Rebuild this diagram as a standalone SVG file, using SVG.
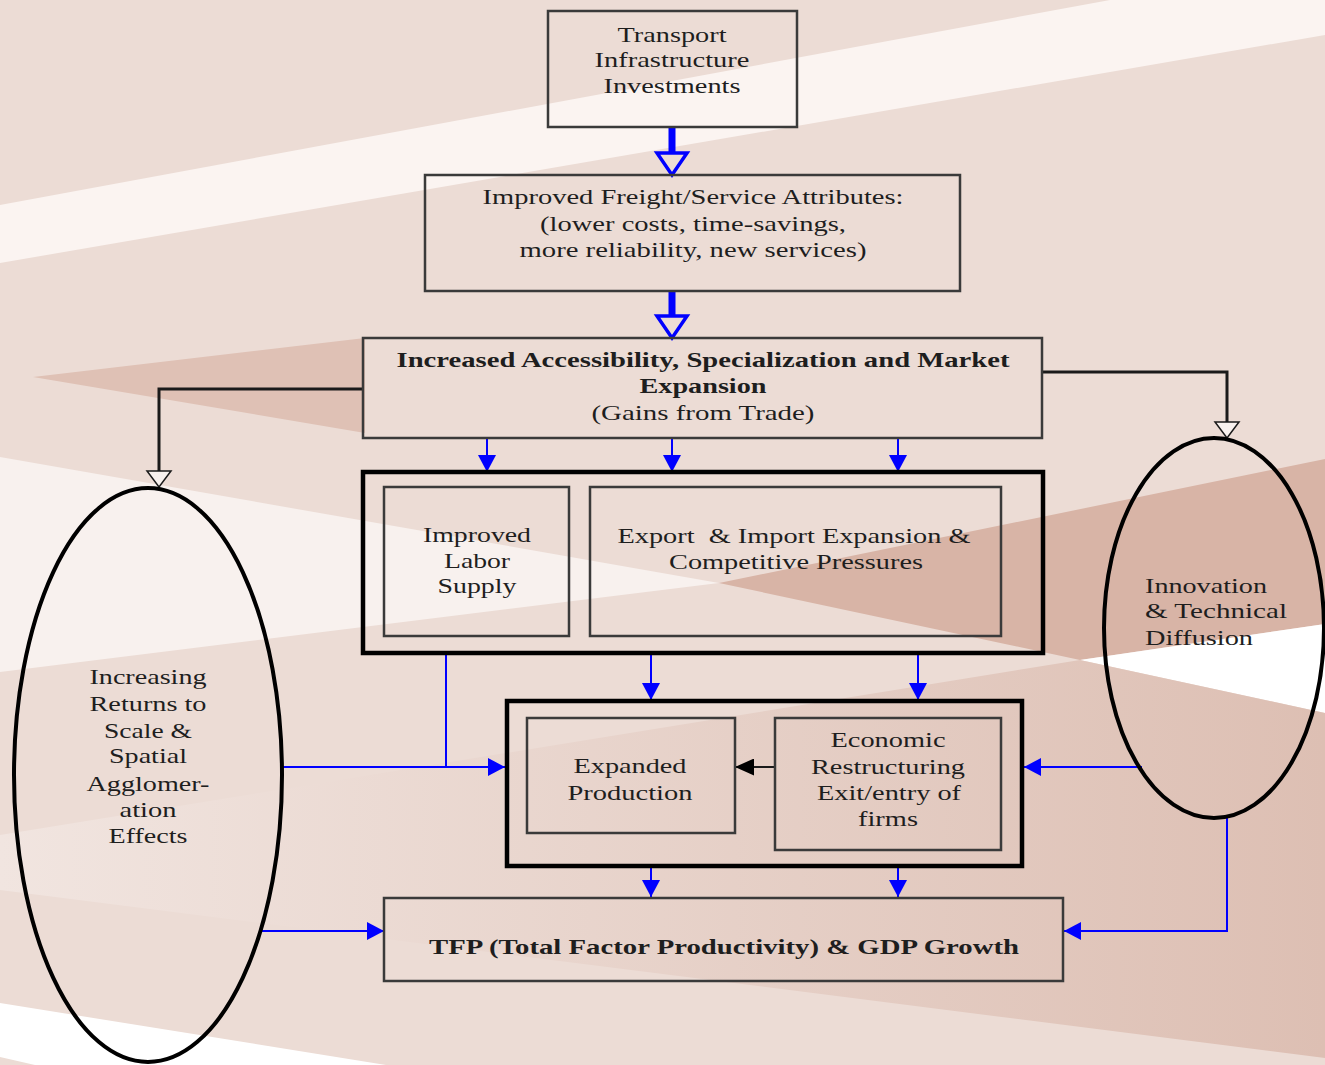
<svg xmlns="http://www.w3.org/2000/svg" width="1325" height="1065" viewBox="0 0 1325 1065">
<style>
.box{fill:none;stroke:#3a3a3a;stroke-width:2.5}
.outer{fill:none;stroke:#000;stroke-width:4.5}
.ell{fill:none;stroke:#000;stroke-width:4}
.t{font-family:"Liberation Serif","Times New Roman",serif;font-size:22px;fill:#1e1e1e;text-anchor:middle}
.b{font-weight:bold}
.l{text-anchor:start}
.blue{stroke:#0000ff;stroke-width:2;fill:none}
.bthick{stroke:#0000ff;stroke-width:7;fill:none}
.hblue{fill:none;stroke:#0000ff;stroke-width:3.5;stroke-linejoin:miter}
.blk{stroke:#1a1a1a;stroke-width:3;fill:none}
.hblk{fill:#f8f1ee;stroke:#1a1a1a;stroke-width:1.5}
</style>
<defs>
<linearGradient id="g1" x1="0" y1="0" x2="1325" y2="0" gradientUnits="userSpaceOnUse">
<stop offset="0" stop-color="#f1e5e0"/>
<stop offset="1" stop-color="#ddbfb3"/>
</linearGradient>
<marker id="ab" markerUnits="userSpaceOnUse" markerWidth="17" markerHeight="18" viewBox="0 0 17 18" refX="17" refY="9" orient="auto"><path d="M0,0 L17,9 L0,18 z" fill="#0000ff"/></marker>
<marker id="ak" markerUnits="userSpaceOnUse" markerWidth="19" markerHeight="17" viewBox="0 0 19 17" refX="19" refY="8.5" orient="auto"><path d="M0,0 L19,8.5 L0,17 z" fill="#000"/></marker>
</defs>
<g id="background">
<rect width="1325" height="1065" fill="#ecdcd5"/>
<polygon points="1110,0 1325,0 1325,35 0,263 0,205" fill="#fbf4f1"/>
<polygon points="33,377 365,338 365,433" fill="#dfc1b5"/>
<polygon points="0,457 719,583 0,672" fill="#f8f1ee"/>
<polygon points="719,583 1325,459 1325,624 1080,660" fill="#d8b4a6"/>
<polygon points="1080,660 1325,624 1325,713" fill="#ffffff"/>
<polygon points="0,835 1080,660 1325,713 1325,1058 0,890" fill="url(#g1)"/>
<polygon points="0,1003 386,1065 35,1065 0,1057" fill="#ffffff"/>
</g>
<g id="connectors">
<path class="bthick" d="M672,127 V153"/>
<polygon class="hblue" points="657,153 687,153 672,175"/>
<path class="bthick" d="M672,291 V316"/>
<polygon class="hblue" points="657,316 687,316 672,338"/>
<path class="blue" d="M487,438 V472" marker-end="url(#ab)"/>
<path class="blue" d="M672,438 V472" marker-end="url(#ab)"/>
<path class="blue" d="M898,438 V472" marker-end="url(#ab)"/>
<path class="blue" d="M651,653 V700" marker-end="url(#ab)"/>
<path class="blue" d="M918,653 V700" marker-end="url(#ab)"/>
<path class="blue" d="M446,653 V767"/>
<path class="blue" d="M283,767 H505" marker-end="url(#ab)"/>
<path class="blk" style="stroke-width:2" d="M775,767 H735" marker-end="url(#ak)"/>
<path class="blue" d="M1142,767 H1024" marker-end="url(#ab)"/>
<path class="blue" d="M651,866 V897" marker-end="url(#ab)"/>
<path class="blue" d="M898,866 V897" marker-end="url(#ab)"/>
<path class="blue" d="M261,931 H384" marker-end="url(#ab)"/>
<path class="blue" d="M1227,818 V931 H1064" marker-end="url(#ab)"/>
<path class="blk" d="M363,389 H159 V471"/>
<polygon class="hblk" points="147,471 171,471 159,487"/>
<path class="blk" d="M1042,372 H1227 V422"/>
<polygon class="hblk" points="1215,422 1239,422 1227,438"/>
</g>
<g id="transport">
<rect class="box" x="548" y="11" width="249" height="116"/>
<text class="t" x="672" y="42" textLength="109" lengthAdjust="spacingAndGlyphs">Transport</text>
<text class="t" x="672" y="67" textLength="155" lengthAdjust="spacingAndGlyphs">Infrastructure</text>
<text class="t" x="672" y="93" textLength="137" lengthAdjust="spacingAndGlyphs">Investments</text>
</g>
<g id="freight">
<rect class="box" x="425" y="175" width="535" height="116"/>
<text class="t" x="693" y="204" textLength="421" lengthAdjust="spacingAndGlyphs">Improved Freight/Service Attributes:</text>
<text class="t" x="693" y="231" textLength="306" lengthAdjust="spacingAndGlyphs">(lower costs, time-savings,</text>
<text class="t" x="693" y="257" textLength="347" lengthAdjust="spacingAndGlyphs">more reliability, new services)</text>
</g>
<g id="accessibility">
<rect class="box" x="363" y="338" width="679" height="100"/>
<text class="t b" x="703" y="367" textLength="613" lengthAdjust="spacingAndGlyphs">Increased Accessibility, Specialization and Market</text>
<text class="t b" x="703" y="393" textLength="127" lengthAdjust="spacingAndGlyphs">Expansion</text>
<text class="t" x="703" y="420" textLength="223" lengthAdjust="spacingAndGlyphs">(Gains from Trade)</text>
</g>
<g id="group-trade-effects">
<rect class="outer" x="363" y="472" width="680" height="181"/>
</g>
<g id="labor">
<rect class="box" x="384" y="487" width="185" height="149"/>
<text class="t" x="477" y="542" textLength="108" lengthAdjust="spacingAndGlyphs">Improved</text>
<text class="t" x="477" y="568" textLength="66" lengthAdjust="spacingAndGlyphs">Labor</text>
<text class="t" x="477" y="593" textLength="79" lengthAdjust="spacingAndGlyphs">Supply</text>
</g>
<g id="export">
<rect class="box" x="590" y="487" width="411" height="149"/>
<text class="t" x="794" y="543" textLength="353" lengthAdjust="spacingAndGlyphs" xml:space="preserve">Export  &amp; Import Expansion &amp;</text>
<text class="t" x="796" y="569" textLength="254" lengthAdjust="spacingAndGlyphs">Competitive Pressures</text>
</g>
<g id="group-production">
<rect class="outer" x="507" y="701" width="515" height="165"/>
</g>
<g id="expanded">
<rect class="box" x="527" y="718" width="208" height="115"/>
<text class="t" x="630" y="773" textLength="113" lengthAdjust="spacingAndGlyphs">Expanded</text>
<text class="t" x="630" y="800" textLength="125" lengthAdjust="spacingAndGlyphs">Production</text>
</g>
<g id="restructuring">
<rect class="box" x="775" y="718" width="226" height="132"/>
<text class="t" x="888" y="747" textLength="115" lengthAdjust="spacingAndGlyphs">Economic</text>
<text class="t" x="888" y="774" textLength="154" lengthAdjust="spacingAndGlyphs">Restructuring</text>
<text class="t" x="889" y="800" textLength="144" lengthAdjust="spacingAndGlyphs">Exit/entry of</text>
<text class="t" x="888" y="826" textLength="60" lengthAdjust="spacingAndGlyphs">firms</text>
</g>
<g id="tfp">
<rect class="box" x="384" y="898" width="679" height="83"/>
<text class="t b" x="724" y="954" textLength="590" lengthAdjust="spacingAndGlyphs">TFP (Total Factor Productivity) &amp; GDP Growth</text>
</g>
<g id="returns">
<ellipse class="ell" cx="148" cy="775" rx="134" ry="287"/>
<text class="t" x="148" y="684" textLength="117" lengthAdjust="spacingAndGlyphs">Increasing</text>
<text class="t" x="148" y="711" textLength="117" lengthAdjust="spacingAndGlyphs">Returns to</text>
<text class="t" x="148" y="738" textLength="88" lengthAdjust="spacingAndGlyphs">Scale &amp;</text>
<text class="t" x="148" y="763" textLength="78" lengthAdjust="spacingAndGlyphs">Spatial</text>
<text class="t" x="148" y="791" textLength="123" lengthAdjust="spacingAndGlyphs">Agglomer-</text>
<text class="t" x="148" y="817" textLength="57" lengthAdjust="spacingAndGlyphs">ation</text>
<text class="t" x="148" y="843" textLength="79" lengthAdjust="spacingAndGlyphs">Effects</text>
</g>
<g id="innovation">
<ellipse class="ell" cx="1214" cy="628" rx="110" ry="190"/>
<text class="t l" x="1145" y="593" textLength="122" lengthAdjust="spacingAndGlyphs">Innovation</text>
<text class="t l" x="1145" y="618" textLength="142" lengthAdjust="spacingAndGlyphs">&amp; Technical</text>
<text class="t l" x="1145" y="645" textLength="108" lengthAdjust="spacingAndGlyphs">Diffusion</text>
</g>
</svg>
